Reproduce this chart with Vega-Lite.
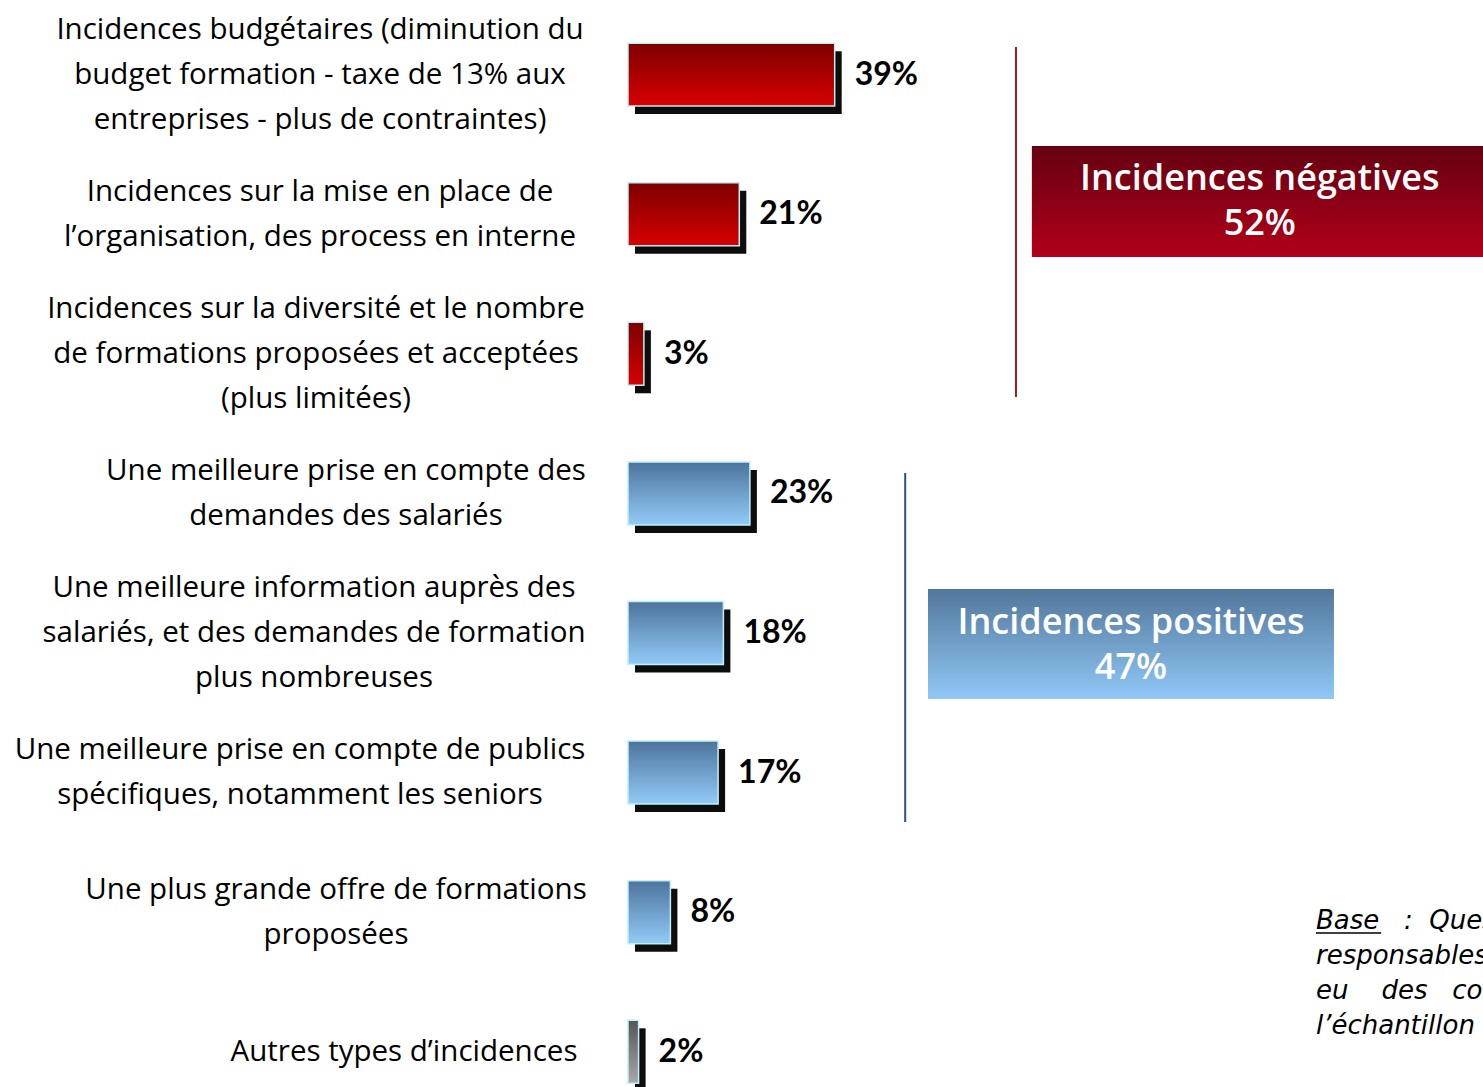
{
  "$schema": "https://vega.github.io/schema/vega-lite/v6.json",
  "width": 855,
  "height": 1087,
  "autosize": {"type": "none"},
  "padding": {"left": 628, "top": 0, "right": 0, "bottom": 0},
  "background": "white",
  "config": {"view": {"stroke": null}},
  "datasets": {
    "bars": [
      {"label": "Incidences budgétaires (diminution du|budget formation - taxe de 13% aux|entreprises - plus de contraintes)", "group": "neg", "value": 0.39},
      {"label": "Incidences sur la mise en place de|l’organisation, des process en interne", "group": "neg", "value": 0.21},
      {"label": "Incidences sur la diversité et le nombre|de formations proposées et acceptées|(plus limitées)", "group": "neg", "value": 0.03},
      {"label": "Une meilleure prise en compte des|demandes des salariés", "group": "pos", "value": 0.23},
      {"label": "Une meilleure information auprès des|salariés, et des demandes de formation|plus nombreuses", "group": "pos", "value": 0.18},
      {"label": "Une meilleure prise en compte de publics|spécifiques, notamment les seniors", "group": "pos", "value": 0.17},
      {"label": "Une plus grande offre de formations|proposées", "group": "pos", "value": 0.08},
      {"label": "Autres types d’incidences", "group": "autre", "value": 0.02}
    ],
    "brackets": [
      {"group": "neg", "x": 0.732, "ry": -0.193, "ry2": 2.314},
      {"group": "pos", "x": 0.523, "ry": 2.858, "ry2": 5.358}
    ],
    "boxes": [
      {"group": "neg", "x": 0.762, "x2": 1.6132, "ry": 0.516, "ry2": 1.311, "tx": 1.192, "ty": 0.752, "text": "Incidences négatives|52%"},
      {"group": "pos", "x": 0.566, "x2": 1.332, "ry": 3.689, "ry2": 4.477, "tx": 0.949, "ty": 3.933, "text": "Incidences positives|47%"}
    ],
    "note": [
      {"x": 1.298, "ry": 6.065, "x2": 1.421, "uy": 6.153, "text": "Base\u00a0\u00a0\u00a0:\u00a0\u00a0Questionnaires|responsables formation|eu\u00a0\u00a0\u00a0\u00a0des\u00a0\u00a0\u00a0contraintes|l’échantillon"}
    ]
  },
  "layer": [
    {
      "data": {"name": "bars"},
      "encoding": {
        "y": {
          "field": "label", "type": "nominal", "sort": null,
          "scale": {"paddingInner": 0.549, "paddingOuter": 0.168, "align": 0.92},
          "axis": null
        },
        "x": {"field": "value", "type": "quantitative", "scale": {"domain": [0, 1.6132], "nice": false, "zero": true}, "axis": null}
      },
      "layer": [
        {"mark": {"type": "bar", "color": "black", "xOffset": 7, "yOffset": 8, "opacity": 0.95}},
        {
          "transform": [{"filter": "datum.group === 'neg'"}],
          "mark": {"type": "bar", "stroke": "#bdf1f5", "strokeWidth": 1.5,
            "fill": {"gradient": "linear", "x1": 0, "y1": 0, "x2": 0, "y2": 1,
              "stops": [{"offset": 0, "color": "#7d0000"}, {"offset": 1, "color": "#d80000"}]}}
        },
        {
          "transform": [{"filter": "datum.group === 'pos'"}],
          "mark": {"type": "bar", "stroke": "#bdf1f5", "strokeWidth": 1.5,
            "fill": {"gradient": "linear", "x1": 0, "y1": 0, "x2": 0, "y2": 1,
              "stops": [{"offset": 0, "color": "#4d739c"}, {"offset": 1, "color": "#92cbf8"}]}}
        },
        {
          "transform": [{"filter": "datum.group === 'autre'"}],
          "mark": {"type": "bar", "stroke": "#bdf1f5", "strokeWidth": 1.5,
            "fill": {"gradient": "linear", "x1": 0, "y1": 0, "x2": 0, "y2": 1,
              "stops": [{"offset": 0, "color": "#555555"}, {"offset": 1, "color": "#a8a8a8"}]}}
        },
        {
          "mark": {"type": "text", "align": "left", "baseline": "middle", "dx": 20, "dy": 0,
            "font": "Lato", "fontWeight": "bold", "fontSize": 32, "color": "black"},
          "encoding": {"text": {"field": "value", "type": "quantitative", "format": ".0%"}}
        },
        {
          "mark": {"type": "text", "align": "center", "baseline": "middle", "lineBreak": "|", "lineHeight": 45,
            "font": "Open Sans", "fontSize": 29.5, "color": "black",
            "dx": {"expr": "-308 + (indexof(datum.label,'Autres')>=0 ? 84 : indexof(datum.label,'publics')>=0 ? -20 : indexof(datum.label,'demandes des salari')>=0 ? 26 : indexof(datum.label,'plus grande')>=0 ? 16 : indexof(datum.label,'information')>=0 ? -6 : indexof(datum.label,'diversit')>=0 ? -4 : 0)"},
            "dy": {"expr": "-(length(split(datum.label,'|'))-1)*22.5"}},
          "encoding": {
            "x": {"datum": 0},
            "text": {"field": "label", "type": "nominal"}
          }
        }
      ]
    },
    {
      "layer": [
        {
          "data": {"name": "brackets"},
          "mark": {"type": "rule", "strokeWidth": 2},
          "encoding": {
            "x": {"field": "x", "type": "quantitative", "scale": {"domain": [0, 1.6132], "nice": false}, "axis": null},
            "y": {"field": "ry", "type": "quantitative", "scale": {"domain": [-0.53, 7.256], "nice": false, "zero": false, "reverse": true}, "axis": null},
            "y2": {"field": "ry2"},
            "color": {"field": "group", "type": "nominal", "scale": {"domain": ["neg", "pos"], "range": ["#9b1b1b", "#2f4f80"]}, "legend": null}
          }
        },
        {
          "data": {"name": "boxes"},
          "transform": [{"filter": "datum.group === 'neg'"}],
          "mark": {"type": "rect",
            "fill": {"gradient": "linear", "x1": 0, "y1": 0, "x2": 0, "y2": 1,
              "stops": [{"offset": 0, "color": "#650010"}, {"offset": 1, "color": "#b2001a"}]}},
          "encoding": {
            "x": {"field": "x", "type": "quantitative"},
            "x2": {"field": "x2"},
            "y": {"field": "ry", "type": "quantitative"},
            "y2": {"field": "ry2"}
          }
        },
        {
          "data": {"name": "boxes"},
          "transform": [{"filter": "datum.group === 'pos'"}],
          "mark": {"type": "rect",
            "fill": {"gradient": "linear", "x1": 0, "y1": 0, "x2": 0, "y2": 1,
              "stops": [{"offset": 0, "color": "#52779c"}, {"offset": 1, "color": "#90c8f6"}]}},
          "encoding": {
            "x": {"field": "x", "type": "quantitative"},
            "x2": {"field": "x2"},
            "y": {"field": "ry", "type": "quantitative"},
            "y2": {"field": "ry2"}
          }
        },
        {
          "data": {"name": "boxes"},
          "mark": {"type": "text", "align": "center", "baseline": "middle", "lineBreak": "|", "lineHeight": 45,
            "font": "Open Sans", "fontWeight": 600, "fontSize": 36, "color": "white"},
          "encoding": {
            "x": {"field": "tx", "type": "quantitative"},
            "y": {"field": "ty", "type": "quantitative"},
            "text": {"field": "text", "type": "nominal"}
          }
        },
        {
          "data": {"name": "note"},
          "mark": {"type": "text", "align": "left", "baseline": "middle", "lineBreak": "|", "lineHeight": 35,
            "font": "DejaVu Sans", "fontStyle": "italic", "fontSize": 26, "color": "black"},
          "encoding": {
            "x": {"field": "x", "type": "quantitative"},
            "y": {"field": "ry", "type": "quantitative"},
            "text": {"field": "text", "type": "nominal"}
          }
        },
        {
          "data": {"name": "note"},
          "mark": {"type": "rule", "color": "black", "strokeWidth": 1.5},
          "encoding": {
            "x": {"field": "x", "type": "quantitative"},
            "x2": {"field": "x2"},
            "y": {"field": "uy", "type": "quantitative"}
          }
        }
      ]
    }
  ],
  "resolve": {"scale": {"y": "independent", "color": "independent"}}
}
